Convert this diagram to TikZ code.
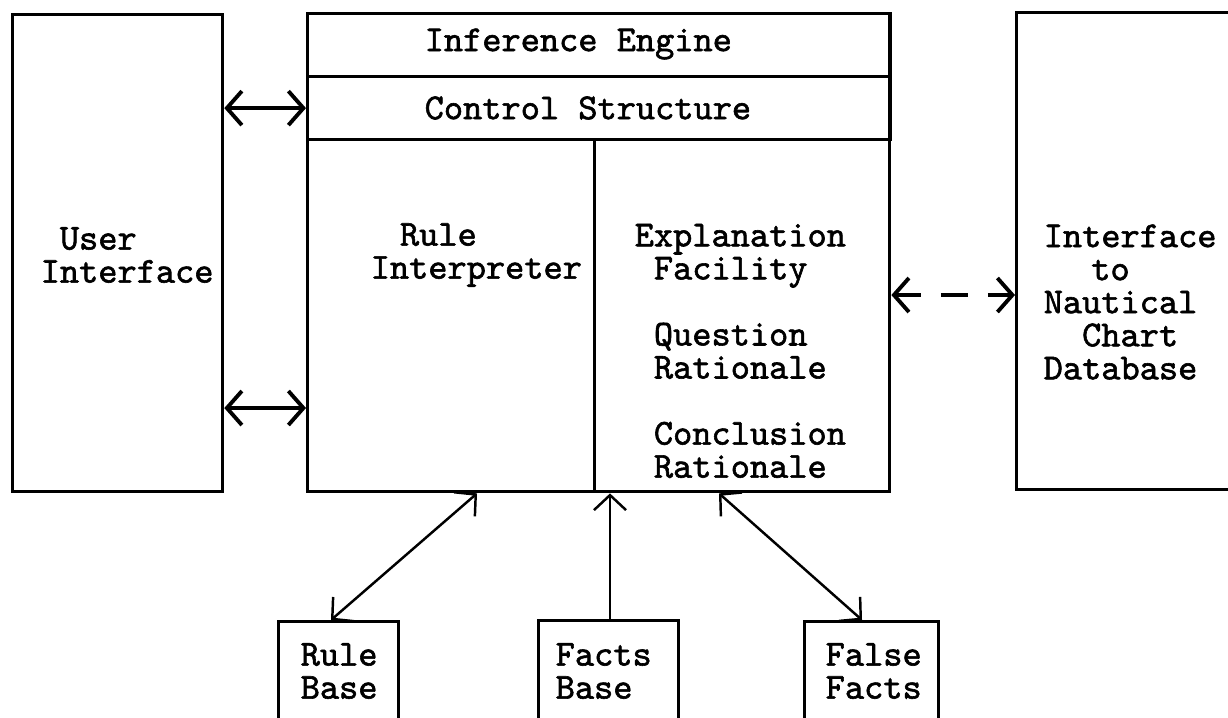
\documentclass[tikz,border=0pt]{standalone}
\usepackage{fontspec}
\newfontfamily\slabfont[FakeBold=1.6]{Latin Modern Mono}
\usetikzlibrary{arrows.meta}
\tikzset{
  box/.style={draw, line width=0.9pt, inner sep=0pt, anchor=north west},
  lbl/.style={inner sep=0pt, align=left, font=\slabfont\fontsize{10.4}{9.4}\selectfont},
  barbs/.style={line width=1.1pt, {Straight Barb[length=1.5mm,width=3.4mm]}-{Straight Barb[length=1.5mm,width=3.4mm]}},
  thinbarbs/.style={line width=0.7pt, {Straight Barb[length=1.5mm,width=3.2mm]}-{Straight Barb[length=1.5mm,width=3.2mm]}}
}
\begin{document}
\begin{tikzpicture}[x=0.01cm, y=-0.01cm]
  \useasboundingbox (0,0) rectangle (1228,717);
  % boxes
  \node[box, minimum width=2.10cm, minimum height=4.77cm] (user) at (11,13) {};
  \node[box, minimum width=5.82cm, minimum height=0.63cm] (engine) at (306,12) {};
  \node[box, minimum width=5.82cm, minimum height=0.63cm] (control) at (306,75) {};
  \node[box, minimum width=2.87cm, minimum height=3.52cm] (interp) at (306,138) {};
  \node[box, minimum width=2.95cm, minimum height=3.52cm] (explain) at (593,138) {};
  \node[box, minimum width=3.00cm, minimum height=4.77cm] (chart) at (1015,11) {};
  \node[box, minimum width=1.20cm, minimum height=1.50cm] (rulebase) at (277,620) {};
  \node[box, minimum width=1.40cm, minimum height=1.50cm] (factsbase) at (537,619) {};
  \node[box, minimum width=1.34cm, minimum height=1.50cm] (falsefacts) at (803,620) {};
  % labels
  \node[lbl, anchor=west] (engineText) at (424,44) {Inference Engine};
  \node[lbl, anchor=west] (controlText) at (424,108) {Control Structure};
  \node[lbl, anchor=west] (userText) at (40,255) {~User\\Interface};
  \node[lbl, anchor=west] (interpText) at (370,255) {\hspace{0.8em}Rule\\Interpreter};
  \node[lbl, anchor=west] (explainText) at (634,351) {Explanation\\~Facility\\[0.33cm]~Question\\~Rationale\\[0.33cm]~Conclusion\\~Rationale};
  \node[lbl, anchor=west] (chartText) at (1043,302) {Interface\\\hspace{1.3em}to\\Nautical\\~~Chart\\Database};
  \node[lbl, anchor=west] (rulebaseText) at (300,671) {Rule\\Base};
  \node[lbl, anchor=west] (factsbaseText) at (555,671) {Facts\\Base};
  \node[lbl, anchor=west] (falsefactsText) at (825,671) {False\\Facts};
  % connectors
  \draw[barbs] (user.east |- control.west) -- (control.west);
  \draw[barbs] (user.east |- 0,408) -- (interp.west |- 0,408);
  \draw[barbs, dash pattern=on 0.27cm off 0.2cm, dash phase=0.02cm] (explain.east |- 0,295) -- (chart.west |- 0,295);
  \draw[thinbarbs] (rulebase.north -| 331,0) -- (interp.south -| 477,0);
  \draw[line width=0.7pt, -{Straight Barb[length=1.5mm,width=3.2mm]}] (factsbase.north -| 610,0) -- (explain.south -| 610,0);
  \draw[thinbarbs] (falsefacts.north -| 862,0) -- (explain.south -| 719,0);
\end{tikzpicture}
\end{document}
